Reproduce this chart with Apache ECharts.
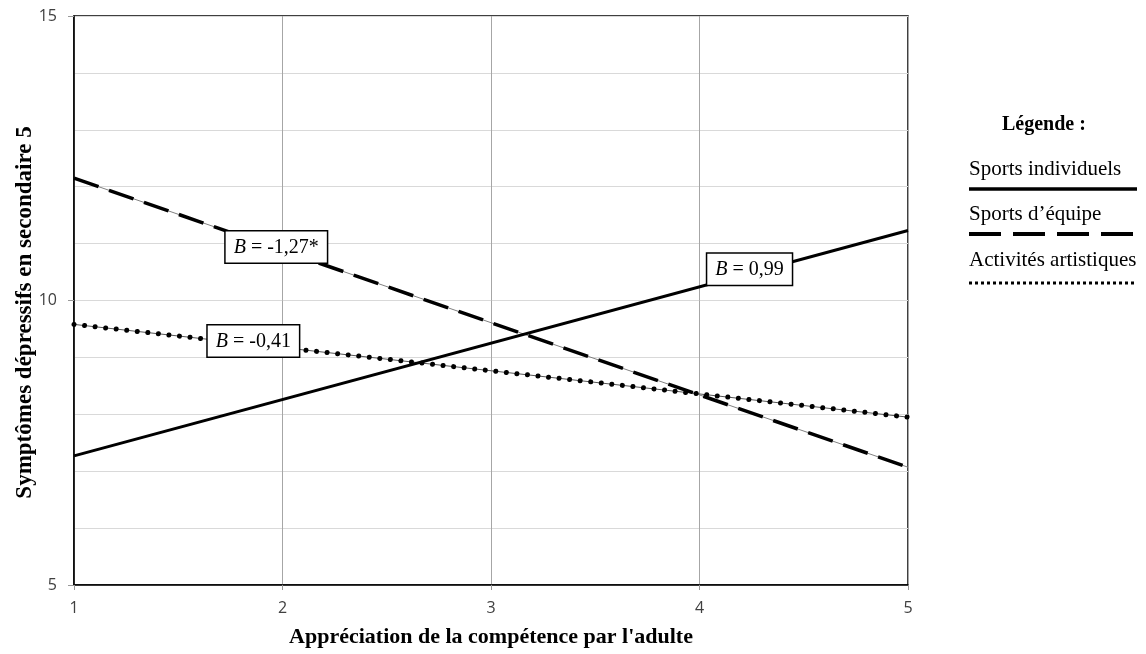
<!DOCTYPE html>
<html>
<head>
<meta charset="utf-8">
<script src="https://cdn.jsdelivr.net/npm/echarts@6/dist/echarts.min.js"></script>
<style>html,body{margin:0;padding:0;background:#fff}#c{width:1146px;height:654px}</style>
</head>
<body>
<div id="c"></div>
<script>
const xValues = [1, 5];
const individuels = [7.27, 11.23];
const equipe = [12.15, 7.07];
const artistiques = [9.58, 7.95];
const seriesNames = ['Sports individuels', 'Sports d\u2019équipe', 'Activités artistiques'];
const annotText = ['= 0,99', '= -1,27*', '= -0,41'];
const annotX = [4.24, 1.97, 1.86];
const annotY = [10.55, 10.94, 9.29];
const yTicks = [5, 10, 15];

const serif = '"Liberation Serif", "Times New Roman", serif';
const chart = echarts.init(document.getElementById('c'));

function pts(arr) { return xValues.map((x, i) => [x, arr[i]]); }
function annot(i) {
  return {
    symbol: 'rect', symbolSize: 1, itemStyle: { color: 'rgba(0,0,0,0)' },
    data: [{ coord: [annotX[i], annotY[i]] }],
    label: {
      show: true, position: 'inside',
      formatter: '{i|B} ' + annotText[i],
      fontFamily: serif, fontSize: 20, color: '#000', lineHeight: 22,
      backgroundColor: '#fff', borderColor: '#000', borderWidth: 1.5,
      padding: [5, 8, 4, 8],
      rich: { i: { fontStyle: 'italic', fontFamily: serif, fontSize: 20, color: '#000' } }
    }
  };
}

const legendX1 = 969, legendX2 = 1137;
chart.setOption({
  animation: false,
  grid: { left: 74, right: 238, top: 16, bottom: 69, show: true, borderColor: '#000', borderWidth: 1.5,
    containLabel: false, outerBoundsMode: 'none' },
  xAxis: {
    type: 'value', min: 1, max: 5, interval: 1,
    name: 'Appréciation de la compétence par l\'adulte', nameLocation: 'middle', nameGap: 41,
    nameMoveOverlap: false,
    nameTextStyle: { fontFamily: serif, fontWeight: 'bold', fontSize: 22, color: '#000' },
    axisLine: { lineStyle: { color: '#000', width: 1.5 } },
    axisTick: { show: true, length: 5, lineStyle: { color: '#999' } },
    axisLabel: { margin: 15, fontFamily: '"Open Sans", sans-serif', fontSize: 16, color: '#404040' },
    splitLine: { show: true, lineStyle: { color: '#a6a6a6', width: 1 } }
  },
  yAxis: {
    type: 'value', min: 5, max: 15, interval: 5,
    name: 'Symptômes dépressifs en secondaire 5', nameLocation: 'middle', nameGap: 37,
    nameMoveOverlap: false,
    nameTextStyle: { fontFamily: serif, fontWeight: 'bold', fontSize: 23, color: '#000', padding: [0, 24, 0, 0] },
    axisLine: { show: true, lineStyle: { color: '#000', width: 1.5 } },
    axisTick: { show: true, length: 6, lineStyle: { color: '#999' } },
    axisLabel: { margin: 17, fontFamily: '"Open Sans", sans-serif', fontSize: 16, color: '#404040',
      formatter: v => yTicks.includes(v) ? String(v) : '' },
    splitLine: { show: true, lineStyle: { color: '#d9d9d9', width: 1 } },
    minorTick: { show: false, splitNumber: 5 },
    minorSplitLine: { show: true, lineStyle: { color: '#d9d9d9', width: 1 } }
  },
  series: [
    { name: seriesNames[1] + ' base', type: 'line', data: pts(equipe), showSymbol: false, silent: true, z: 2,
      lineStyle: { color: '#808080', width: 1 } },
    { name: seriesNames[2] + ' base', type: 'line', data: pts(artistiques), showSymbol: false, silent: true, z: 2,
      lineStyle: { color: '#555', width: 1 } },
    { name: seriesNames[1], type: 'line', data: pts(equipe), showSymbol: false, z: 3,
      lineStyle: { color: '#000', width: 3.5, type: [26, 11] }, markPoint: annot(1) },
    { name: seriesNames[2], type: 'line', data: pts(artistiques), showSymbol: false, z: 3,
      lineStyle: { color: '#000', width: 5, type: [0.01, 10.6], cap: 'round' }, markPoint: annot(2) },
    { name: seriesNames[0], type: 'line', data: pts(individuels), showSymbol: false, z: 4,
      lineStyle: { color: '#000', width: 3 }, markPoint: annot(0) }
  ],
  graphic: [
    { type: 'text', left: 1002, top: 115, style: { text: 'Légende :', font: 'bold 20px ' + serif, fill: '#000' } },
    { type: 'text', left: legendX1, top: 159, style: { text: seriesNames[0], font: '21px ' + serif, fill: '#000' } },
    { type: 'line', shape: { x1: legendX1, y1: 189, x2: legendX2, y2: 189 }, style: { stroke: '#000', lineWidth: 3.5 } },
    { type: 'text', left: legendX1, top: 204, style: { text: seriesNames[1], font: '21px ' + serif, fill: '#000' } },
    { type: 'line', shape: { x1: legendX1, y1: 234, x2: 1133, y2: 234 }, style: { stroke: '#000', lineWidth: 4, lineDash: [32, 12] } },
    { type: 'text', left: legendX1, top: 250, style: { text: seriesNames[2], font: '21px ' + serif, fill: '#000' } },
    { type: 'line', shape: { x1: legendX1, y1: 283, x2: legendX2, y2: 283 }, style: { stroke: '#000', lineWidth: 3, lineDash: [3, 3] } }
  ]
});
</script>
</body>
</html>
